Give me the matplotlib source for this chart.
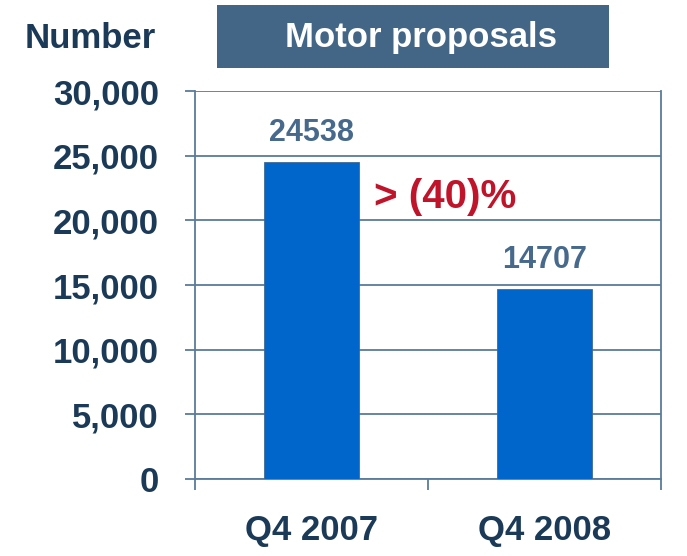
import matplotlib.pyplot as plt
from matplotlib.patches import Rectangle

categories = ["Q4 2007", "Q4 2008"]
values = [24538, 14707]
yticks = [0, 5000, 10000, 15000, 20000, 25000, 30000]
ytick_labels = ["0", "5,000", "10,000", "15,000", "20,000", "25,000", "30,000"]
change_label = "> (40)%"

navy = "#1b3a57"
grid_col = "#5b7b9b"
plt.rcParams['font.family'] = ['Liberation Sans', 'DejaVu Sans']
plt.rcParams['font.weight'] = 'bold'

fig = plt.figure(figsize=(6.87, 5.56), dpi=100)
W, H = 687, 556
ax = fig.add_axes([195 / W, 1 - 479 / H, 466 / W, 388 / H])

xs = [0.5, 1.5]
ax.bar(xs, values, width=0.41, color="#0066cc", edgecolor="#3f6a94", linewidth=0.6, zorder=3)
for x, v in zip(xs, values):
    ax.annotate(str(v), (x, v), xytext=(0, 10), textcoords="offset points",
                ha="center", va="bottom", fontsize=22, fontweight="bold", color="#47698c")

ax.text(0.77, 21800, change_label, ha="left", va="center", fontsize=29,
        fontweight="bold", color="#c0142b", zorder=4)

ax.set_xlim(0, 2)
ax.set_ylim(0, 30000)
ax.set_yticks(yticks)
ax.set_yticklabels(ytick_labels, fontsize=25, fontweight="bold", color=navy)
ax.tick_params(axis="y", length=7, width=1.3, color=grid_col, pad=19)
ax.set_xticks(xs)
ax.set_xticklabels(categories, fontsize=25, fontweight="bold", color=navy)
ax.tick_params(axis="x", which="major", length=0, pad=25)
ax.set_xticks([0, 1, 2], minor=True)
ax.tick_params(axis="x", which="minor", length=8, width=1.3, color=grid_col)
ax.yaxis.grid(True, color=grid_col, linewidth=1.3, zorder=0)
ax.set_axisbelow(True)
for s in ["left", "right", "bottom"]:
    ax.spines[s].set_color(grid_col)
    ax.spines[s].set_linewidth(1.3)
ax.spines["top"].set_visible(False)

fig.add_artist(Rectangle((217 / W, 1 - 68 / H), 392 / W, 63 / H, transform=fig.transFigure,
                         facecolor="#436687", edgecolor="none"))
fig.text(421 / W, 1 - 38 / H, "Motor proposals", ha="center", va="center",
         fontsize=25, fontweight="bold", color="white")
fig.text(90 / W, 1 - 38 / H, "Number", ha="center", va="center",
         fontsize=25, fontweight="bold", color=navy)

fig.savefig("out.png", dpi=100)
